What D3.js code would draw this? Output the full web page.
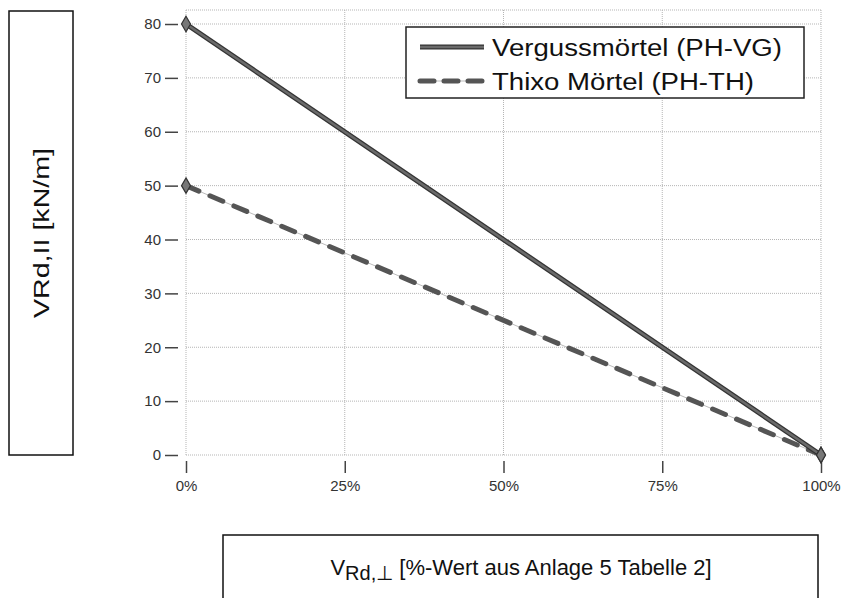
<!DOCTYPE html>
<html>
<head>
<meta charset="utf-8">
<script src="https://cdn.jsdelivr.net/npm/d3@7"></script>
<style>
body{margin:0;background:#fff;}
text{font-family:"Liberation Sans",Arial,sans-serif;}
</style>
</head>
<body>
<div id="chart"></div>
<script>
var xValues=[0,100];//Prozent
var verguss=[80,0];
var thixo=[50,0];
var seriesNames=["Vergussmörtel (PH-VG)","Thixo Mörtel (PH-TH)"];
var yTicks=[0,10,20,30,40,50,60,70,80];
var xTicks=[0,25,50,75,100];

var width=842,height=598;
var mLeft=186,mRight=821,mTop=10,mBottom=455;

var svg=d3.select('#chart').append('svg')
    .attr('width',width).attr('height',height);

var x=d3.scaleLinear().domain([0,100]).range([mLeft,mRight]);
var y=d3.scaleLinear().domain([0,82.6]).range([mBottom,mTop]);

// Gitter
svg.append('g').selectAll('line').data(yTicks).enter().append('line')
    .attr('x1',mLeft).attr('x2',mRight)
    .attr('y1',function(d){return y(d);}).attr('y2',function(d){return y(d);})
    .attr('stroke','#b5b5b5').attr('stroke-width',1).attr('stroke-dasharray','1,1');
svg.append('g').selectAll('line').data(xTicks).enter().append('line')
    .attr('x1',function(d){return x(d);}).attr('x2',function(d){return x(d);})
    .attr('y1',mTop).attr('y2',mBottom)
    .attr('stroke','#b5b5b5').attr('stroke-width',1).attr('stroke-dasharray','1,1');
svg.append('line').attr('x1',mLeft).attr('x2',mRight).attr('y1',mTop).attr('y2',mTop)
    .attr('stroke','#b5b5b5').attr('stroke-dasharray','1,1');

// Achsen
var yAxis=d3.axisLeft(y).tickValues(yTicks).tickSize(13).tickPadding(4);
var gy=svg.append('g').attr('transform','translate('+(mLeft-8)+',0)').call(yAxis);
gy.select('.domain').remove();
gy.selectAll('line').attr('stroke','#444').attr('stroke-width',1.5);
gy.selectAll('text').attr('font-size',15).attr('fill','#333')
    .attr('font-family','"Liberation Sans",Arial,sans-serif');

var xAxis=d3.axisBottom(x).tickValues(xTicks).tickSize(12).tickPadding(7)
    .tickFormat(function(d){return d+'%';});
var gx=svg.append('g').attr('transform','translate(0,'+(mBottom+6)+')').call(xAxis);
gx.select('.domain').remove();
gx.selectAll('line').attr('stroke','#444').attr('stroke-width',1.5);
gx.selectAll('text').attr('font-size',15).attr('fill','#333')
    .attr('font-family','"Liberation Sans",Arial,sans-serif');

// Linien
var line=d3.line().x(function(d,i){return x(xValues[i]);}).y(function(d){return y(d);});
svg.append('path').datum(thixo).attr('d',line)
    .attr('fill','none').attr('stroke','#bbb').attr('stroke-width',1);
svg.append('path').datum(thixo).attr('d',line)
    .attr('fill','none').attr('stroke','#555').attr('stroke-width',5)
    .attr('stroke-dasharray','14,12').attr('stroke-linecap','round');
svg.append('path').datum(verguss).attr('d',line)
    .attr('fill','none').attr('stroke','#333').attr('stroke-width',5);
svg.append('path').datum(verguss).attr('d',line)
    .attr('fill','none').attr('stroke','#6a6a6a').attr('stroke-width',2.5);

// Marker (Rauten)
var diamond=d3.symbol().type(d3.symbolDiamond).size(70);
[verguss,thixo].forEach(function(s){
  svg.append('g').selectAll('path').data(s).enter().append('path')
    .attr('d',diamond)
    .attr('transform',function(d,i){return 'translate('+x(xValues[i])+','+y(d)+')';})
    .attr('fill','#777').attr('stroke','#333').attr('stroke-width',1.2);
});

// Legende
var lg=svg.append('g').attr('transform','translate(406,27)');
lg.append('rect').attr('width',398).attr('height',71)
    .attr('fill','#fff').attr('stroke','#222').attr('stroke-width',1.5);
lg.append('line').attr('x1',14).attr('x2',78).attr('y1',20).attr('y2',20)
    .attr('stroke','#333').attr('stroke-width',5);
lg.append('line').attr('x1',14).attr('x2',78).attr('y1',20).attr('y2',20)
    .attr('stroke','#6a6a6a').attr('stroke-width',2.5);
lg.append('line').attr('x1',14).attr('x2',78).attr('y1',54).attr('y2',54)
    .attr('stroke','#bbb').attr('stroke-width',1);
lg.append('line').attr('x1',14).attr('x2',78).attr('y1',54).attr('y2',54)
    .attr('stroke','#555').attr('stroke-width',5).attr('stroke-dasharray','14,10')
    .attr('stroke-linecap','round');
var legLen=[290,262];
lg.selectAll('text.lab').data(seriesNames).enter().append('text')
    .attr('x',86).attr('y',function(d,i){return 29+i*34;})
    .attr('font-size',23).attr('fill','#111')
    .attr('textLength',function(d,i){return legLen[i];}).attr('lengthAdjust','spacingAndGlyphs')
    .text(function(d){return d;});

// Y-Achsentitel
svg.append('rect').attr('x',9).attr('y',11).attr('width',64).attr('height',444)
    .attr('fill','none').attr('stroke','#111').attr('stroke-width',1.5);
svg.append('text').attr('transform','translate(49,233) rotate(-90)')
    .attr('text-anchor','middle').attr('font-size',22).attr('fill','#111')
    .attr('textLength',170).attr('lengthAdjust','spacingAndGlyphs')
    .text('VRd,II [kN/m]');

// X-Achsentitel
svg.append('path').attr('d','M223,600 V535 H818 V600')
    .attr('fill','none').attr('stroke','#111').attr('stroke-width',1.5);
var xt=svg.append('text').attr('x',521).attr('y',575)
    .attr('text-anchor','middle').attr('font-size',22).attr('fill','#111');
xt.append('tspan').text('V');
xt.append('tspan').attr('dy',5).attr('font-size',20).text('Rd,⊥');
xt.append('tspan').attr('dy',-5).text(' [%-Wert aus Anlage 5 Tabelle 2]');
</script>
</body>
</html>
